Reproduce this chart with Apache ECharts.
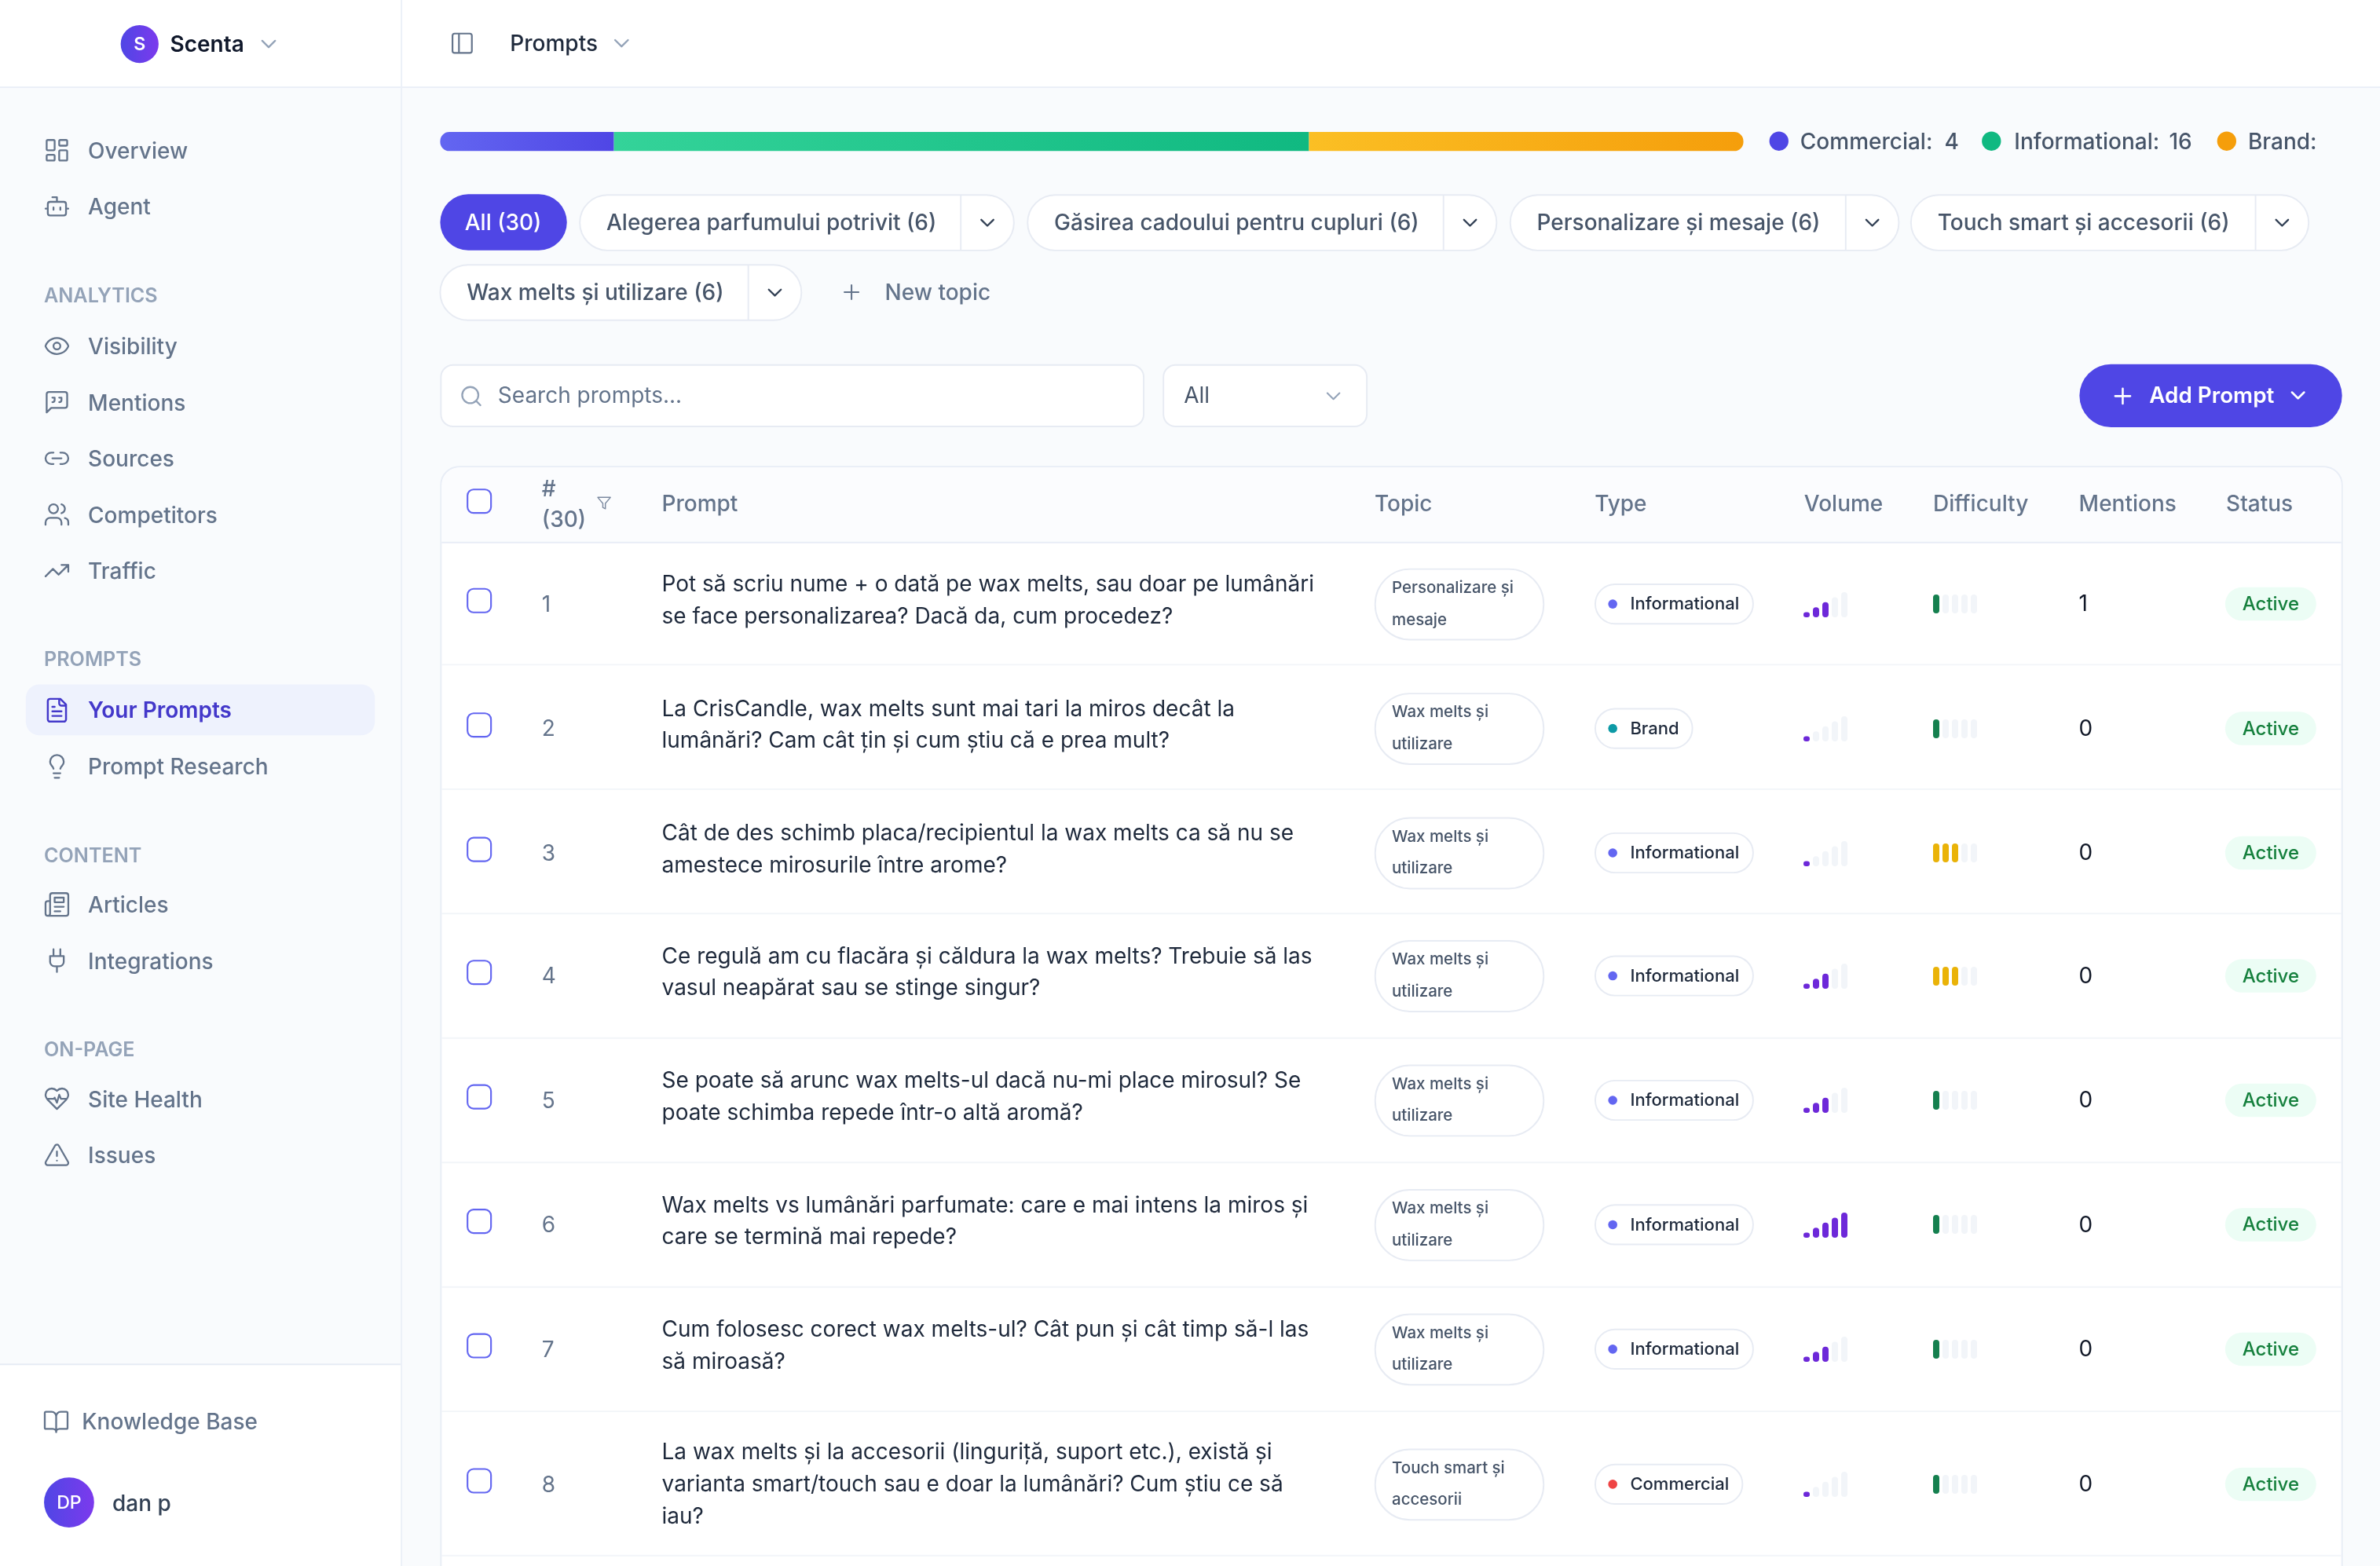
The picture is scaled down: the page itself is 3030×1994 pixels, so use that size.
<!DOCTYPE html>
<html><head><meta charset="utf-8">
<style>html,body{margin:0;padding:0;background:#f9fbfd}#c{width:3030px;height:1994px}</style>
<script src="https://cdn.jsdelivr.net/npm/echarts@6/dist/echarts.min.js"></script>
</head><body><div id="c"></div>
<script>
// ---- DATA ----
const typeNames = ['Commercial', 'Informational', 'Brand'];
const typeCounts = [4, 16, 10];
const legendValues = ['4', '16', ''];
const rowNumbers = [1, 2, 3, 4, 5, 6, 7, 8];
const promptLines = [
  ['Pot să scriu nume + o dată pe wax melts, sau doar pe lumânări', 'se face personalizarea? Dacă da, cum procedez?'],
  ['La CrisCandle, wax melts sunt mai tari la miros decât la', 'lumânări? Cam cât țin și cum știu că e prea mult?'],
  ['Cât de des schimb placa/recipientul la wax melts ca să nu se', 'amestece mirosurile între arome?'],
  ['Ce regulă am cu flacăra și căldura la wax melts? Trebuie să las', 'vasul neapărat sau se stinge singur?'],
  ['Se poate să arunc wax melts-ul dacă nu-mi place mirosul? Se', 'poate schimba repede într-o altă aromă?'],
  ['Wax melts vs lumânări parfumate: care e mai intens la miros și', 'care se termină mai repede?'],
  ['Cum folosesc corect wax melts-ul? Cât pun și cât timp să-l las', 'să miroasă?'],
  ['La wax melts și la accesorii (linguriță, suport etc.), există și', 'varianta smart/touch sau e doar la lumânări? Cum știu ce să', 'iau?']
];
const rowTopics = [
  ['Personalizare și', 'mesaje'], ['Wax melts și', 'utilizare'], ['Wax melts și', 'utilizare'], ['Wax melts și', 'utilizare'],
  ['Wax melts și', 'utilizare'], ['Wax melts și', 'utilizare'], ['Wax melts și', 'utilizare'], ['Touch smart și', 'accesorii']
];
const rowTypes = ['Informational', 'Brand', 'Informational', 'Informational', 'Informational', 'Informational', 'Informational', 'Commercial'];
const rowVolume = [3, 1, 1, 3, 3, 5, 3, 1];
const rowDifficulty = [1, 1, 3, 3, 1, 1, 1, 1];
const rowMentions = [1, 0, 0, 0, 0, 0, 0, 0];
const rowStatus = ['Active', 'Active', 'Active', 'Active', 'Active', 'Active', 'Active', 'Active'];
const barSlots = [1, 2, 3, 4, 5];
const columnHeads = ['Prompt', 'Topic', 'Type', 'Volume', 'Difficulty', 'Mentions', 'Status'];
const navItems = [
  ['Overview', 'dash', 99], ['Agent', 'bot', 136], ['Visibility', 'eye', 228], ['Mentions', 'quote', 265], ['Sources', 'link', 302],
  ['Competitors', 'users', 339], ['Traffic', 'trend', 376], ['Prompt Research', 'bulb', 505],
  ['Articles', 'news', 596], ['Integrations', 'plug', 633], ['Site Health', 'heart', 724], ['Issues', 'alert', 761]
];
const navSections = [['ANALYTICS', 194], ['PROMPTS', 434], ['CONTENT', 563], ['ON-PAGE', 691]];
const topicTabs = [
  ['Alegerea parfumului potrivit (6)', 382, 668, 633, 146],
  ['Găsirea cadoului pentru cupluri (6)', 677, 986, 951, 146],
  ['Personalizare și mesaje (6)', 995, 1251, 1216, 146],
  ['Touch smart și accesorii (6)', 1259, 1521, 1486, 146],
  ['Wax melts și utilizare (6)', 290, 528, 493, 192]
];

// ---- LAYOUT ----
const S = 3030 / 1568, FONT = 'Inter', BODY = 14.5;
const rowCenter = [398, 480, 562, 643, 725, 807, 889, 978];
const rowLines = [438, 520, 602, 684, 766, 848, 930, 1025];
const typeColor = { Informational: '#6366f1', Brand: '#0d9aa6', Commercial: '#ef4444' };
const typeWidth = { Informational: 104, Brand: 64, Commercial: 97 };
const headX = [436, 905.6, 1050.6, 1188.6, 1273.6, 1369.6, 1466.6];
const ICONS = {
  dash: 'M4 3h5a1 1 0 0 1 1 1v7a1 1 0 0 1-1 1H4a1 1 0 0 1-1-1V4a1 1 0 0 1 1-1z M15 3h5a1 1 0 0 1 1 1v3a1 1 0 0 1-1 1h-5a1 1 0 0 1-1-1V4a1 1 0 0 1 1-1z M15 12h5a1 1 0 0 1 1 1v7a1 1 0 0 1-1 1h-5a1 1 0 0 1-1-1v-7a1 1 0 0 1 1-1z M4 16h5a1 1 0 0 1 1 1v3a1 1 0 0 1-1 1H4a1 1 0 0 1-1-1v-3a1 1 0 0 1 1-1z',
  bot: 'M12 8V4H8 M6 8h12a2 2 0 0 1 2 2v8a2 2 0 0 1-2 2H6a2 2 0 0 1-2-2v-8a2 2 0 0 1 2-2z M2 14h2 M20 14h2 M15 13v2 M9 13v2',
  eye: 'M2.06 12.35a1 1 0 0 1 0-.7 10.75 10.75 0 0 1 19.88 0 1 1 0 0 1 0 .7 10.75 10.75 0 0 1-19.88 0 M15 12a3 3 0 1 1-6 0 3 3 0 0 1 6 0z',
  quote: 'M21 15a2 2 0 0 1-2 2H7l-4 4V5a2 2 0 0 1 2-2h14a2 2 0 0 1 2 2z M8 12a2 2 0 0 0 2-2V8H8 M14 12a2 2 0 0 0 2-2V8h-2',
  link: 'M9 17H7A5 5 0 0 1 7 7h2 M15 7h2a5 5 0 1 1 0 10h-2 M8 12h8',
  users: 'M16 21v-2a4 4 0 0 0-4-4H6a4 4 0 0 0-4 4v2 M13 7a4 4 0 1 1-8 0 4 4 0 0 1 8 0z M22 21v-2a4 4 0 0 0-3-3.87 M16 3.13a4 4 0 0 1 0 7.75',
  trend: 'M22 7l-8.5 8.5-5-5L2 17 M16 7h6v6',
  file: 'M15 2H6a2 2 0 0 0-2 2v16a2 2 0 0 0 2 2h12a2 2 0 0 0 2-2V7z M14 2v4a2 2 0 0 0 2 2h4 M10 9H8 M16 13H8 M16 17H8',
  bulb: 'M15 14c.2-1 .7-1.7 1.5-2.5 1-.9 1.5-2.2 1.5-3.5A6 6 0 0 0 6 8c0 1 .2 2.2 1.5 3.5.7.7 1.3 1.5 1.5 2.5 M9 18h6 M10 22h4',
  news: 'M4 22h16a2 2 0 0 0 2-2V4a2 2 0 0 0-2-2H8a2 2 0 0 0-2 2v16a2 2 0 0 1-2 2zm0 0a2 2 0 0 1-2-2v-9c0-1.1.9-2 2-2h2 M18 14h-8 M15 18h-5 M10 6h8v4h-8z',
  plug: 'M12 22v-5 M9 8V2 M15 8V2 M18 8v5a4 4 0 0 1-4 4h-4a4 4 0 0 1-4-4V8z',
  heart: 'M19 14c1.49-1.46 3-3.21 3-5.5A5.5 5.5 0 0 0 16.5 3c-1.76 0-3 .5-4.5 2-1.5-1.5-2.74-2-4.5-2A5.5 5.5 0 0 0 2 8.5c0 2.3 1.5 4.05 3 5.5l7 7z M3.22 12H9.5l.5-1 2 4.5 2-7 1.5 3.5h5.27',
  alert: 'M21.73 18l-8-14a2 2 0 0 0-3.48 0l-8 14A2 2 0 0 0 4 21h16a2 2 0 0 0 1.73-3z M12 9v4 M12 17h.01',
  book: 'M12 7v14 M3 18a1 1 0 0 1-1-1V4a1 1 0 0 1 1-1h5a4 4 0 0 1 4 4 4 4 0 0 1 4-4h5a1 1 0 0 1 1 1v13a1 1 0 0 1-1 1h-6a3 3 0 0 0-3 3 3 3 0 0 0-3-3z',
  panel: 'M5 3h14a2 2 0 0 1 2 2v14a2 2 0 0 1-2 2H5a2 2 0 0 1-2-2V5a2 2 0 0 1 2-2z M9 3v18',
  search: 'M19 11a8 8 0 1 1-16 0 8 8 0 0 1 16 0z M21 21l-4.3-4.3',
  plus: 'M5 12h14 M12 5v14',
  chev: 'M6 9l6 6 6-6',
  funnel: 'M22 3H2l8 9.46V19l4 2v-8.54z'
};
Object.keys(ICONS).forEach(k => echarts.graphic.registerShape('icon_' + k, echarts.graphic.extendPath(ICONS[k], {})));
const G = [];
function T(text, x, y, size, fill, weight, align) {
  G.push({ type: 'text', silent: true, x: x * S, y: (y + 1.1) * S, z: 5,
    style: { text: String(text), fontFamily: FONT, fontSize: size * S, fontWeight: weight || 400, fill: fill, align: align || 'left', verticalAlign: 'middle' } });
}
function R(x, y, w, h, r, fill, stroke, lw) {
  G.push({ type: 'rect', silent: true, z: 1, shape: { x: x * S, y: y * S, width: w * S, height: h * S, r: Array.isArray(r) ? r.map(v => v * S) : r * S },
    style: { fill: fill || 'none', stroke: stroke || 'none', lineWidth: (lw || 1) * S } });
}
function L(x1, y1, x2, y2, c, lw) {
  G.push({ type: 'line', silent: true, z: 2, shape: { x1: x1 * S, y1: y1 * S, x2: x2 * S, y2: y2 * S }, style: { stroke: c, lineWidth: (lw || 1) * S } });
}
function C(x, y, r, fill) {
  G.push({ type: 'circle', silent: true, z: 3, shape: { cx: x * S, cy: y * S, r: r * S }, style: { fill: fill } });
}
function I(name, cx, cy, size, c, lw) {
  const k = size * S / 24;
  G.push({ type: 'icon_' + name, silent: true, z: 4, shape: {}, x: cx * S - 12 * k, y: cy * S - 12 * k, scaleX: k, scaleY: k,
    style: { fill: 'none', stroke: c, lineWidth: lw || 1.8, lineCap: 'round', lineJoin: 'round' } });
}
const grad = (a, b) => ({ type: 'linear', x: 0, y: 0, x2: 1, y2: 0, colorStops: [{ offset: 0, color: a }, { offset: 1, color: b }] });
const PILL = '#e7ebf3', SLATE = '#64748b', INK = '#1e293b';

// frame
R(0, 0, 1568, 1032, 0, '#f9fbfd');
R(0, 0, 1568, 57, 0, '#ffffff');
L(0, 57.5, 1568, 57.5, '#e9eef7', 1);
R(0, 899, 264, 133, 0, '#ffffff');
L(0, 899, 264, 899, '#e6ebf4', 1);
L(264.5, 0, 264.5, 1032, '#ebf0f8', 1);

// header
C(92, 29, 12.5, grad('#4f46e5', '#7c3aed'));
T('S', 92, 28.2, 12, '#ffffff', 600, 'center');
T('Scenta', 112, 28.7, BODY, '#0f172a', 600);
I('chev', 177, 29, 17, '#94a3b8', 1.7);
I('panel', 304.5, 28.5, 17, SLATE, 1.6);
T('Prompts', 336, 28, BODY, INK, 500);
I('chev', 409.5, 28.5, 17, '#94a3b8', 1.7);

// sidebar
navItems.forEach(n => { I(n[1], 37.5, n[2], 18, SLATE, 1.6); T(n[0], 58, n[2], BODY, SLATE, 500); });
navSections.forEach(n => T(n[0], 29, n[1], 13, '#94a3b8', 600));
R(17, 451, 230, 33.5, 9, '#eef2fd');
I('file', 37.5, 468, 18, '#4338ca', 1.7);
T('Your Prompts', 58, 467.4, BODY, '#4338ca', 600);
I('book', 37, 937, 18, SLATE, 1.6);
T('Knowledge Base', 54, 936.4, BODY, SLATE, 500);
C(45.5, 990, 16.5, grad('#4f46e5', '#7c3aed'));
T('DP', 45.5, 989.2, 12, '#ffffff', 500, 'center');
T('dan p', 74, 990, BODY, '#334155', 500);

// legend beside progress bar
const legendDots = ['#4f46e5', '#10b981', '#f59e0b'], legendDotX = [1172, 1312, 1467], legendTextX = [1186, 1327, 1481], legendValX = [1281, 1429, 0];
typeNames.forEach((n, i) => {
  C(legendDotX[i], 93, 6.3, legendDots[i]);
  T(n + ':', legendTextX[i], 93, BODY, '#475569', 500);
  if (legendValues[i]) T(legendValues[i], legendValX[i], 93, BODY, '#475569', 500);
});

// topic tabs
R(290, 128, 83.5, 37, 18.5, '#4f46e5');
T('All (30)', 331.5, 146.2, BODY, '#ffffff', 500, 'center');
topicTabs.forEach((t, i) => {
  const y = i === 4 ? 174.5 : 128.5, cy = y + 18.3;
  R(t[1], y, t[2] - t[1], 36.5, 18.25, '#ffffff', PILL);
  L(t[3], y, t[3], y + 36.5, PILL);
  T(t[0], t[1] + 17.5, cy - 0.5, BODY, '#475569', 500);
  I('chev', t[3] + 17.5, cy, 16, '#334155', 1.8);
});
I('plus', 561, 192.5, 16, SLATE, 1.6);
T('New topic', 583, 192.2, BODY, SLATE, 500);

// search row
R(290.5, 240.5, 463, 40.5, 8, '#ffffff', PILL);
I('search', 310.5, 261, 16, '#94a3b8', 1.8);
T('Search prompts...', 328, 260.2, BODY, SLATE, 400);
R(766.5, 240.5, 134, 40.5, 8, '#ffffff', PILL);
T('All', 780, 260.2, BODY, '#475569', 400);
I('chev', 878.5, 261, 16, '#94a3b8', 1.6);
R(1370, 240, 173, 41.5, 20.75, '#4f46e5');
I('plus', 1398.5, 261, 17, '#ffffff', 1.9);
T('Add Prompt', 1416, 260.2, 14.4, '#ffffff', 600);
I('chev', 1514, 260.5, 16, '#ffffff', 2);

// table
R(290.5, 307.5, 1252.5, 780, [12, 12, 0, 0], '#ffffff', '#e8edf6');
R(291, 308, 1251.5, 49, [12, 12, 0, 0], '#fbfcfe');
L(291, 357.5, 1542.5, 357.5, '#e8edf6', 1);
R(308, 322.5, 15.5, 15.5, 4, '#ffffff', '#6366f1', 1.1);
T('#', 357, 321.4, BODY, SLATE, 500);
T('(30)', 357, 341.9, BODY, SLATE, 500);
I('funnel', 398, 331.5, 10, '#7c8aa0', 1.8);
columnHeads.forEach((h, i) => T(h, headX[i], 331.6, BODY, SLATE, 500));
rowLines.forEach(y => L(291, y, 1542.5, y, '#f2f5f9', 1));
rowNumbers.forEach((n, i) => {
  const cy = rowCenter[i];
  R(308, cy - 10, 15.5, 15.5, 4, '#ffffff', '#6366f1', 1.1);
  T(n, 357, cy - 0.4, BODY, SLATE, 400);
  const lines = promptLines[i], top = lines.length === 3 ? cy - 21.7 : cy - 13.7;
  lines.forEach((s, j) => T(s, 436, top + j * 21, BODY, INK, 400));
  R(906, cy - 23, 111, 46.5, 23, '#ffffff', PILL);
  T(rowTopics[i][0], 917, cy - 11.6, 10.6, '#475569', 500);
  T(rowTopics[i][1], 917, cy + 9.4, 10.6, '#475569', 500);
  const ty = rowTypes[i];
  R(1051, cy - 13, typeWidth[ty], 26, 13, '#ffffff', PILL);
  C(1062.5, cy, 3, typeColor[ty]);
  T(ty, 1074, cy - 0.7, 11.4, INK, 500);
  T(rowMentions[i], 1369.5, cy - 0.7, BODY, '#111827', 400);
  R(1466, cy - 11, 60, 22, 11, '#ecfdf5');
  T(rowStatus[i], 1496, cy - 0.7, 12.4, '#15803d', 500, 'center');
});

// ---- CHART PART ----
const grids = [], xAxes = [], yAxes = [], series = [];
function addGrid(left, top, width, height, xOpt, yOpt) {
  grids.push({ left, top, width, height, containLabel: false, show: false });
  const i = grids.length - 1;
  xAxes.push(Object.assign({ gridIndex: i, show: false }, xOpt));
  yAxes.push(Object.assign({ gridIndex: i, show: false }, yOpt));
  return i;
}
// progress bar, one stack on a shared value axis
const pg = addGrid(290 * S, 87 * S, 858.6 * S, 12.5 * S,
  { type: 'value', min: 0, max: typeCounts.reduce((a, b) => a + b, 0) }, { type: 'category', data: ['Types'] });
const stackColors = [['#6366f1', '#4f46e5'], ['#34d399', '#10b981'], ['#fbbf24', '#f59e0b']];
const r0 = 6 * S;
typeNames.forEach((n, i) => series.push({
  type: 'bar', name: n, stack: 'types', xAxisIndex: pg, yAxisIndex: pg, barWidth: 12.5 * S, data: [typeCounts[i]], silent: true,
  itemStyle: { color: grad(stackColors[i][0], stackColors[i][1]), borderRadius: i === 0 ? [r0, 0, 0, r0] : i === 2 ? [0, r0, r0, 0] : 0 }
}));
// volume and difficulty meters
rowCenter.forEach((cy, i) => {
  const vg = addGrid(2294, Math.round(cy * S + 16.5 - 32), 60, 32,
    { type: 'category', data: barSlots }, { type: 'value', min: 0, max: barSlots.length });
  series.push({ type: 'bar', xAxisIndex: vg, yAxisIndex: vg, barWidth: 8, barGap: '-100%', silent: true, data: barSlots.slice(), itemStyle: { color: '#f2f5f9', borderRadius: 4 } });
  series.push({ type: 'bar', xAxisIndex: vg, yAxisIndex: vg, barWidth: 8, barGap: '-100%', silent: true,
    data: barSlots.map(s => s <= rowVolume[i] ? s : null), itemStyle: { color: '#6d28d9', borderRadius: 4 } });
  const dg = addGrid(2459, Math.round(cy * S - 12), 60, 24,
    { type: 'category', data: barSlots }, { type: 'value', min: 0, max: 1 });
  series.push({ type: 'bar', xAxisIndex: dg, yAxisIndex: dg, barWidth: 8, barGap: '-100%', silent: true, data: barSlots.map(() => 1), itemStyle: { color: '#f2f5f9', borderRadius: 4 } });
  series.push({ type: 'bar', xAxisIndex: dg, yAxisIndex: dg, barWidth: 8, barGap: '-100%', silent: true,
    data: barSlots.map(s => s <= rowDifficulty[i] ? 1 : null), itemStyle: { color: rowDifficulty[i] >= 3 ? '#eab308' : '#15804f', borderRadius: 4 } });
});

const chart = echarts.init(document.getElementById('c'), null, { width: 3030, height: 1994, renderer: 'canvas' });
chart.setOption({ animation: false, backgroundColor: '#f9fbfd', tooltip: { show: false }, grid: grids, xAxis: xAxes, yAxis: yAxes, series, graphic: { elements: G } });
</script></body></html>
